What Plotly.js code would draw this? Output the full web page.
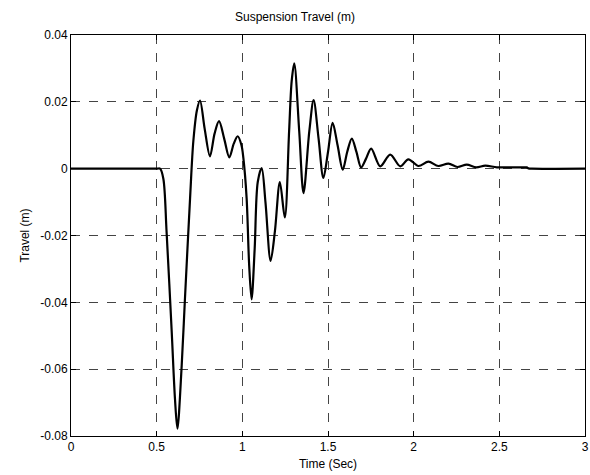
<!DOCTYPE html>
<html>
<head>
<meta charset="utf-8">
<script src="https://cdn.plot.ly/plotly-3.0.1.min.js"></script>
<style>html,body{margin:0;padding:0;background:#fff;}#chart{width:590px;height:475px;}</style>
</head>
<body>
<div id="chart"></div>
<script>
var timeSec = [0, 0.50, 0.52, 0.539, 0.558, 0.588, 0.607, 0.621, 0.646, 0.665, 0.695, 0.714, 0.735, 0.753, 0.78, 0.811, 0.838, 0.864, 0.894, 0.924, 0.95, 0.973, 0.995, 1.006, 1.025, 1.04, 1.054, 1.072, 1.09, 1.113, 1.135, 1.165, 1.19, 1.219, 1.248, 1.273, 1.288, 1.303, 1.332, 1.357, 1.391, 1.416, 1.445, 1.473, 1.5, 1.527, 1.556, 1.586, 1.612, 1.639, 1.666, 1.693, 1.722, 1.752, 1.805, 1.863, 1.922, 1.969, 2.028, 2.086, 2.144, 2.203, 2.256, 2.31, 2.365, 2.418, 2.486, 2.56, 2.64, 2.66, 2.67, 2.69, 3.0];
var travel = [0, 0, 0, -0.003, -0.019, -0.049, -0.069, -0.0778, -0.059, -0.039, -0.0088, 0.0082, 0.0175, 0.0204, 0.012, 0.0037, 0.0105, 0.0142, 0.009, 0.0034, 0.0075, 0.0097, 0.007, 0.0032, -0.0088, -0.029, -0.0391, -0.024, -0.004, 0.0002, -0.01, -0.0276, -0.0188, -0.004, -0.0146, 0.0112, 0.0262, 0.0315, 0.0112, -0.0073, 0.0112, 0.0205, 0.009, -0.0028, 0.005, 0.0137, 0.007, -0.0003, 0.005, 0.009, 0.005, 0.0004, 0.003, 0.006, 0.0007, 0.0042, 0.0007, 0.0028, 0.0008, 0.0021, 0.0008, 0.0015, 0.0005, 0.0012, 0.0004, 0.0009, 0.0004, 0.0004, 0.0004, 0.0004, 0.0001, 0, 0];
var xTicks = [0, 0.5, 1, 1.5, 2, 2.5, 3];
var xTickText = ["0", "0.5", "1", "1.5", "2", "2.5", "3"];
var yTicks = [0.04, 0.02, 0, -0.02, -0.04, -0.06, -0.08];
var yTickText = ["0.04", "0.02", "0", "-0.02", "-0.04", "-0.06", "-0.08"];

var trace = {
  x: timeSec, y: travel, type: 'scatter', mode: 'lines',
  line: {color: '#000', width: 2.2, shape: 'spline', smoothing: 0.9},
  hoverinfo: 'none'
};
var axisCommon = {
  showline: true, mirror: 'ticks', linecolor: '#000', linewidth: 1,
  ticks: 'inside', ticklen: 5, tickcolor: '#000',
  showgrid: true, gridcolor: '#444', griddash: 'dash', gridwidth: 1,
  zeroline: false,
  tickfont: {family: 'Liberation Sans, Arial, sans-serif', size: 12, color: '#000'}
};
var layout = {
  width: 590, height: 475,
  margin: {l: 71, r: 5, t: 35, b: 39},
  paper_bgcolor: '#fff', plot_bgcolor: '#fff',
  showlegend: false,
  title: {text: 'Suspension Travel (m)', x: 0.5, xanchor: 'center', y: 0.965, yanchor: 'middle',
          font: {family: 'Liberation Sans, Arial, sans-serif', size: 12, color: '#000'}},
  xaxis: Object.assign({}, axisCommon, {
    range: [0, 3], tickvals: xTicks, ticktext: xTickText,
    title: {text: 'Time (Sec)', standoff: 6, font: {family: 'Liberation Sans, Arial, sans-serif', size: 12, color: '#000'}}
  }),
  yaxis: Object.assign({}, axisCommon, {
    range: [-0.08, 0.04], tickvals: yTicks, ticktext: yTickText,
    title: {text: 'Travel (m)', standoff: 8, font: {family: 'Liberation Sans, Arial, sans-serif', size: 12, color: '#000'}}
  })
};
Plotly.newPlot('chart', [trace], layout, {staticPlot: true, displayModeBar: false});
</script>
</body>
</html>
